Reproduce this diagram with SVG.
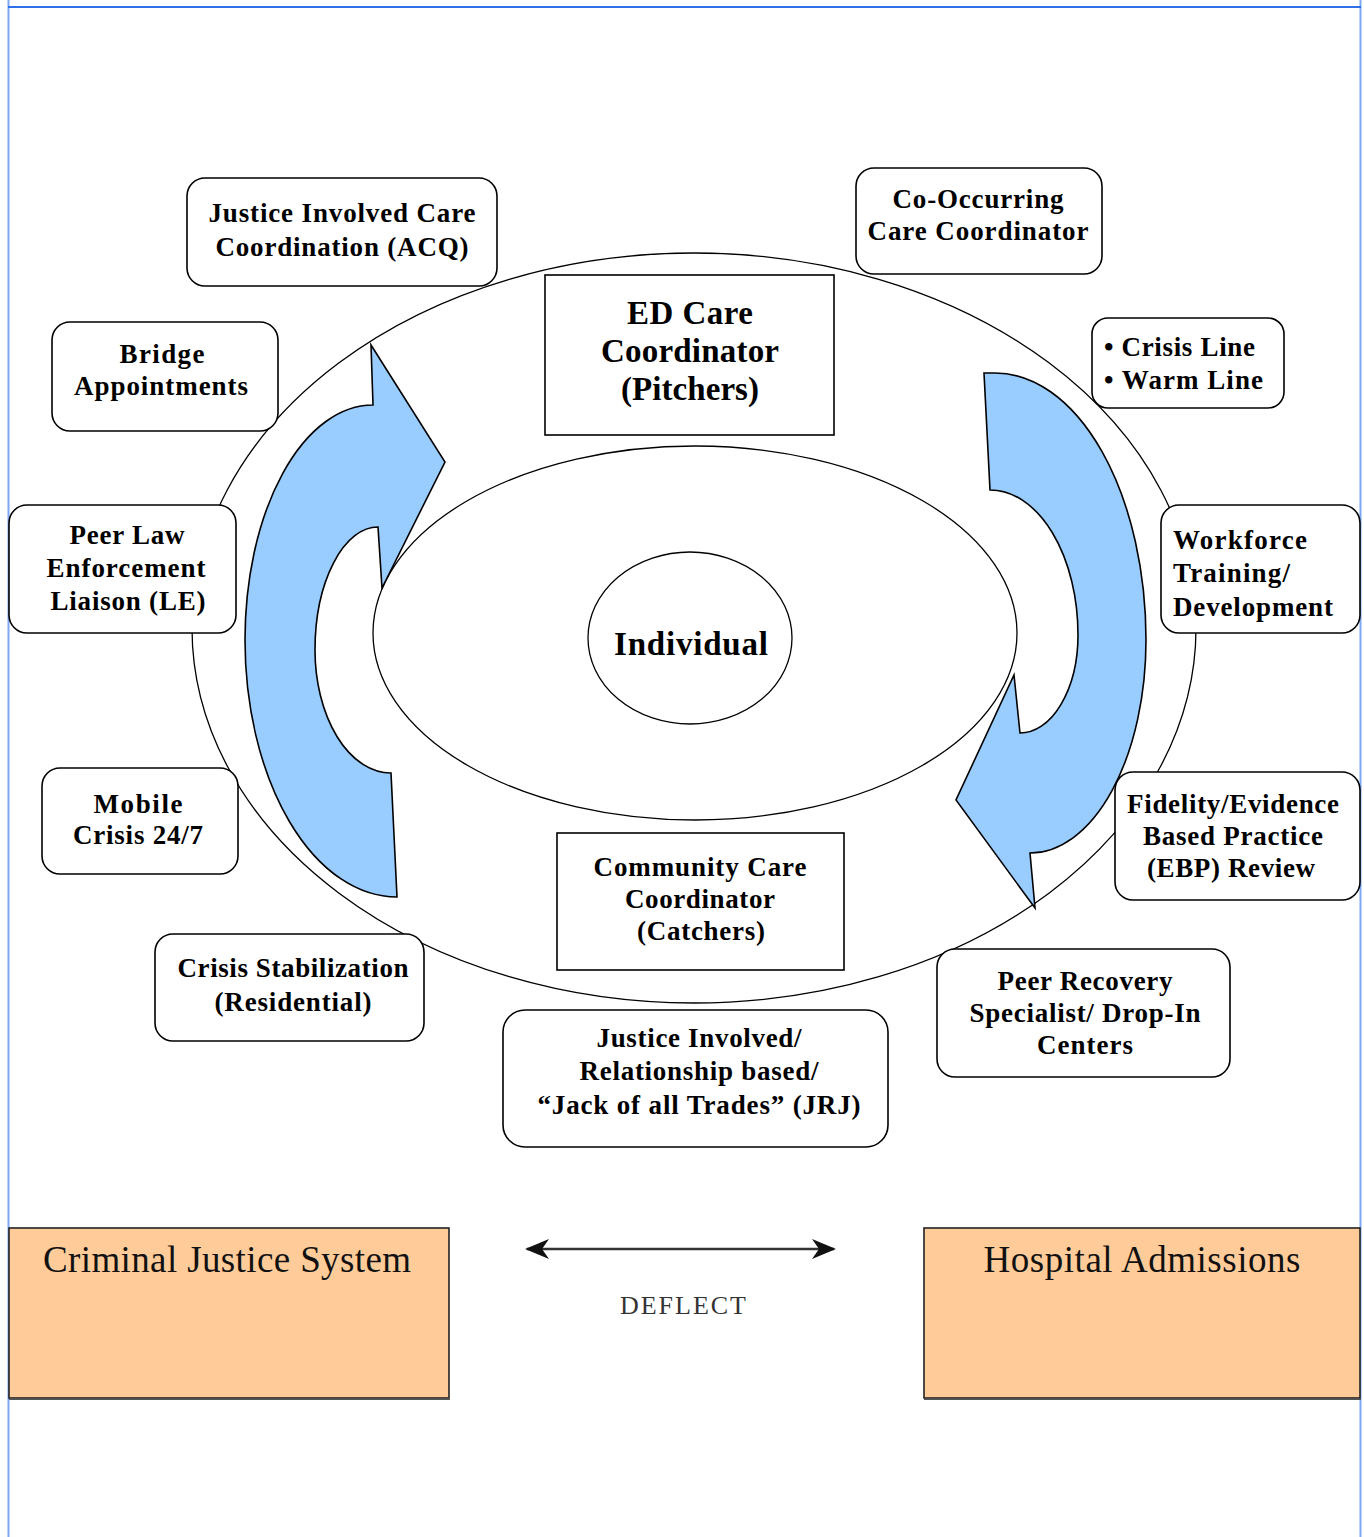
<svg xmlns="http://www.w3.org/2000/svg" width="1364" height="1537" viewBox="0 0 1364 1537">
<style>
.bg{fill:#ffffff}
.frame-v{stroke:#7fa8f5;stroke-width:2;fill:none}
.frame-h{stroke:#2f6fe8;stroke-width:2;fill:none}
.ring{fill:#ffffff;stroke:#000;stroke-width:1.3}
.flow{fill:#99ccff;stroke:#000;stroke-width:1.6;stroke-linejoin:miter}
.rbox{fill:#ffffff;stroke:#000;stroke-width:1.6}
.sbox{fill:#ffffff;stroke:#000;stroke-width:1.6}
.obox{fill:#ffcc99;stroke:#222;stroke-width:1.6}
.t{font-family:"Liberation Serif","Times New Roman",serif;font-weight:bold;font-size:27px;fill:#000;text-anchor:middle}
.tl{text-anchor:start}
.big{font-size:33px}
.reg{font-family:"Liberation Serif","Times New Roman",serif;font-size:37px;fill:#111;text-anchor:middle}
.defl{font-family:"Liberation Serif","Times New Roman",serif;font-size:26px;fill:#333;text-anchor:middle}
.conn{stroke:#333;stroke-width:2.5;fill:none}
</style>
<defs>
<marker id="head" viewBox="0 0 24 20" refX="22" refY="10" markerWidth="24" markerHeight="20" markerUnits="userSpaceOnUse" orient="auto-start-reverse">
<path d="M0,0 L24,10 L0,20 L7,10 Z" fill="#111"/>
</marker>
</defs>
<rect class="bg" x="0" y="0" width="1364" height="1537"/>
<g id="page-frame">
<line class="frame-v" x1="8.5" y1="0" x2="8.5" y2="1537"/>
<line class="frame-v" x1="1360.5" y1="0" x2="1360.5" y2="1537"/>
<line class="frame-h" x1="8" y1="7" x2="1361" y2="7"/>
</g>
<g id="outer-ring"><ellipse class="ring" cx="694" cy="628" rx="502" ry="375"/></g>
<g id="inner-ring"><ellipse class="ring" cx="695" cy="633" rx="322" ry="187"/></g>
<g id="individual">
<ellipse class="ring" cx="690" cy="638" rx="102" ry="86"/>
<text class="t big" x="691" y="655" textLength="154" lengthAdjust="spacing">Individual</text>
</g>
<g id="flow-arrows">
<path class="flow" d="M371,345 L445,462 L382,588 L378,527 A63,123 0 0 0 315,650 A76,123 0 0 0 391,773 L397,897 A152,257 0 0 1 245,640 A128,235 0 0 1 373,405 Z"/>
<path class="flow" d="M984,373 L995,373 A151,267 0 0 1 1146,640 A116,213 0 0 1 1030,853 L1035,908 L956,800 L1014,675 L1020,733 A58,98 0 0 0 1078,635 A88,145 0 0 0 990,490 Z"/>
</g>
<g id="ed-care-coordinator">
<rect class="sbox" x="545" y="275" width="289" height="160"/>
<text class="t big" x="690" y="324" textLength="126" lengthAdjust="spacing">ED Care</text>
<text class="t big" x="690" y="362" textLength="178" lengthAdjust="spacing">Coordinator</text>
<text class="t big" x="690" y="400" textLength="138" lengthAdjust="spacing">(Pitchers)</text>
</g>
<g id="community-care-coordinator">
<rect class="sbox" x="557" y="833" width="287" height="137"/>
<text class="t" x="700" y="876" textLength="213" lengthAdjust="spacing">Community Care</text>
<text class="t" x="700" y="908" textLength="150" lengthAdjust="spacing">Coordinator</text>
<text class="t" x="701" y="940" textLength="128" lengthAdjust="spacing">(Catchers)</text>
</g>
<g id="justice-involved-acq">
<rect class="rbox" x="187" y="178" width="310" height="108" rx="18"/>
<text class="t" x="342" y="222" textLength="267" lengthAdjust="spacing">Justice Involved Care</text>
<text class="t" x="342" y="256" textLength="253" lengthAdjust="spacing">Coordination (ACQ)</text>
</g>
<g id="co-occurring">
<rect class="rbox" x="856" y="168" width="246" height="106" rx="18"/>
<text class="t" x="978" y="208" textLength="171" lengthAdjust="spacing">Co-Occurring</text>
<text class="t" x="978" y="240" textLength="221" lengthAdjust="spacing">Care Coordinator</text>
</g>
<g id="crisis-warm-line">
<rect class="rbox" x="1092" y="318" width="192" height="90" rx="16"/>
<text class="t tl" x="1104" y="356" textLength="151" lengthAdjust="spacing">• Crisis Line</text>
<text class="t tl" x="1104" y="389" textLength="159" lengthAdjust="spacing">• Warm Line</text>
</g>
<g id="bridge-appointments">
<rect class="rbox" x="52" y="322" width="226" height="109" rx="18"/>
<text class="t" x="162" y="363" textLength="85" lengthAdjust="spacing">Bridge</text>
<text class="t" x="161" y="395" textLength="174" lengthAdjust="spacing">Appointments</text>
</g>
<g id="peer-law-enforcement">
<rect class="rbox" x="9" y="505" width="227" height="128" rx="18"/>
<text class="t" x="127" y="544" textLength="115" lengthAdjust="spacing">Peer Law</text>
<text class="t" x="126" y="577" textLength="159" lengthAdjust="spacing">Enforcement</text>
<text class="t" x="128" y="610" textLength="155" lengthAdjust="spacing">Liaison (LE)</text>
</g>
<g id="workforce-training">
<rect class="rbox" x="1161" y="505" width="199" height="128" rx="18"/>
<text class="t tl" x="1173" y="549" textLength="134" lengthAdjust="spacing">Workforce</text>
<text class="t tl" x="1173" y="582" textLength="117" lengthAdjust="spacing">Training/</text>
<text class="t tl" x="1173" y="616" textLength="160" lengthAdjust="spacing">Development</text>
</g>
<g id="mobile-crisis">
<rect class="rbox" x="42" y="768" width="196" height="106" rx="18"/>
<text class="t" x="138" y="813" textLength="89" lengthAdjust="spacing">Mobile</text>
<text class="t" x="138" y="844" textLength="130" lengthAdjust="spacing">Crisis 24/7</text>
</g>
<g id="fidelity-ebp-review">
<rect class="rbox" x="1115" y="772" width="245" height="128" rx="18"/>
<text class="t" x="1233" y="813" textLength="212" lengthAdjust="spacing">Fidelity/Evidence</text>
<text class="t" x="1233" y="845" textLength="180" lengthAdjust="spacing">Based Practice</text>
<text class="t" x="1231" y="877" textLength="168" lengthAdjust="spacing">(EBP) Review</text>
</g>
<g id="crisis-stabilization">
<rect class="rbox" x="155" y="934" width="269" height="107" rx="18"/>
<text class="t" x="293" y="977" textLength="231" lengthAdjust="spacing">Crisis Stabilization</text>
<text class="t" x="293" y="1011" textLength="157" lengthAdjust="spacing">(Residential)</text>
</g>
<g id="justice-involved-jrj">
<rect class="rbox" x="503" y="1010" width="385" height="137" rx="22"/>
<text class="t" x="699" y="1047" textLength="205" lengthAdjust="spacing">Justice Involved/</text>
<text class="t" x="699" y="1080" textLength="239" lengthAdjust="spacing">Relationship based/</text>
<text class="t" x="699" y="1114" textLength="323" lengthAdjust="spacing">“Jack of all Trades” (JRJ)</text>
</g>
<g id="peer-recovery">
<rect class="rbox" x="937" y="949" width="293" height="128" rx="18"/>
<text class="t" x="1085" y="990" textLength="175" lengthAdjust="spacing">Peer Recovery</text>
<text class="t" x="1085" y="1022" textLength="231" lengthAdjust="spacing">Specialist/ Drop-In</text>
<text class="t" x="1085" y="1054" textLength="96" lengthAdjust="spacing">Centers</text>
</g>
<g id="criminal-justice-system">
<rect class="obox" x="9" y="1228" width="440" height="170"/>
<line x1="9" y1="1399.5" x2="450" y2="1399.5" stroke="#555" stroke-width="1.2"/>
<text class="reg" x="227" y="1272" textLength="368" lengthAdjust="spacing">Criminal Justice System</text>
</g>
<g id="hospital-admissions">
<rect class="obox" x="924" y="1228" width="436" height="170"/>
<line x1="924" y1="1399.5" x2="1361" y2="1399.5" stroke="#555" stroke-width="1.2"/>
<text class="reg" x="1142" y="1272" textLength="317" lengthAdjust="spacing">Hospital Admissions</text>
</g>
<g id="connectors">
<line class="conn" x1="527" y1="1249" x2="834" y2="1249" marker-start="url(#head)" marker-end="url(#head)"/>
<text class="defl" x="683" y="1314" textLength="126" lengthAdjust="spacing">DEFLECT</text>
</g>
</svg>
